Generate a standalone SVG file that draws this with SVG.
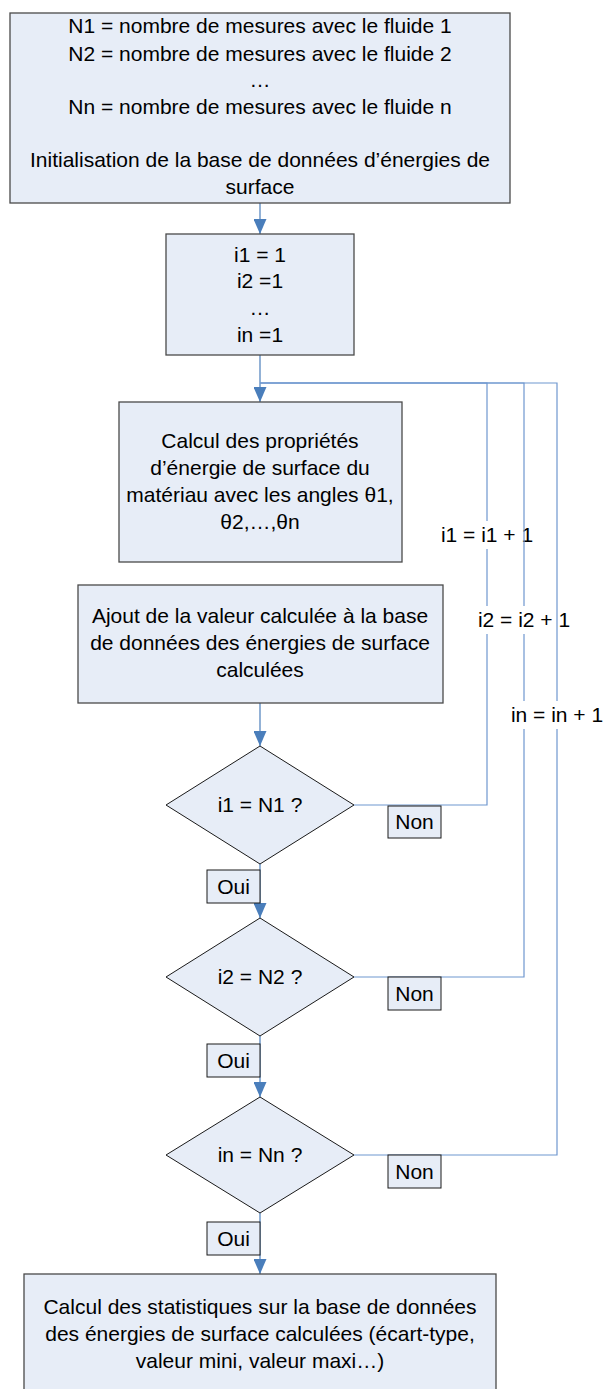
<svg xmlns="http://www.w3.org/2000/svg" width="604" height="1389" viewBox="0 0 604 1389">
<style>
.box{fill:#e7edf7;stroke:#4a4a4a;stroke-width:1.3}
.dia{fill:#e7edf7;stroke:#1a1a1a;stroke-width:1}
.lab{fill:#e7edf7;stroke:#1a1a1a;stroke-width:1}
.t{font-family:"Liberation Sans",Arial,sans-serif;font-size:21px;fill:#000;text-anchor:middle}
.c{fill:none;stroke:#4a7ebb;stroke-width:1.2}
.cl{fill:none;stroke:#6f97cf;stroke-width:1.2}
.bg{fill:#fff}
</style>
<defs>
<marker id="ah" viewBox="0 0 15 13" refX="15" refY="6.5" markerWidth="15" markerHeight="13" markerUnits="userSpaceOnUse" orient="auto">
<path d="M0,0 L15,6.5 L0,13 z" fill="#4a7ebb"/>
</marker>
</defs>
<rect x="0" y="0" width="604" height="1389" fill="#fff"/>

<g id="connectors">
<path class="c" d="M260,203 V234" marker-end="url(#ah)"/>
<path class="c" d="M260,355 V402" marker-end="url(#ah)"/>
<path class="c" d="M260,703 V746" marker-end="url(#ah)"/>
<path class="c" d="M260,864 V918" marker-end="url(#ah)"/>
<path class="c" d="M260,1036 V1097" marker-end="url(#ah)"/>
<path class="c" d="M260,1213 V1274" marker-end="url(#ah)"/>
<g id="loop1">
<path class="cl" d="M354,805 H487 V383 H260"/>
<rect class="bg" x="440" y="521" width="95" height="28"/>
<text class="t" x="487" y="542">i1 = i1 + 1</text>
</g>
<g id="loop2">
<path class="cl" d="M354,977 H524 V383 H260"/>
<rect class="bg" x="477" y="606" width="95" height="28"/>
<text class="t" x="524" y="627">i2 = i2 + 1</text>
</g>
<g id="loop3">
<path class="cl" d="M354,1155 H557 V383 H260"/>
<rect class="bg" x="510" y="701" width="94" height="28"/>
<text class="t" x="557" y="722">in = in + 1</text>
</g>
</g>

<g id="init">
<rect class="box" x="10" y="13" width="500" height="190"/>
<text class="t" x="260" y="33">N1 = nombre de mesures avec le fluide 1</text>
<text class="t" x="260" y="61">N2 = nombre de mesures avec le fluide 2</text>
<text class="t" x="260" y="87">…</text>
<text class="t" x="260" y="114">Nn = nombre de mesures avec le fluide n</text>
<text class="t" x="260" y="167">Initialisation de la base de données d’énergies de</text>
<text class="t" x="260" y="194">surface</text>
</g>

<g id="counters">
<rect class="box" x="166" y="234" width="188" height="121"/>
<text class="t" x="260" y="262">i1 = 1</text>
<text class="t" x="260" y="288">i2 =1</text>
<text class="t" x="260" y="315">…</text>
<text class="t" x="260" y="342">in =1</text>
</g>

<g id="calc">
<rect class="box" x="119" y="402" width="283" height="160"/>
<text class="t" x="260" y="448">Calcul des propriétés</text>
<text class="t" x="260" y="475">d’énergie de surface du</text>
<text class="t" x="260" y="502">matériau avec les angles θ1,</text>
<text class="t" x="260" y="529">θ2,…,θn</text>
</g>

<g id="ajout">
<rect class="box" x="78" y="585" width="365" height="118"/>
<text class="t" x="260" y="623">Ajout de la valeur calculée à la base</text>
<text class="t" x="260" y="650">de données des énergies de surface</text>
<text class="t" x="260" y="677">calculées</text>
</g>

<g id="test1">
<polygon class="dia" points="260,746 354,805 260,864 166,805"/>
<text class="t" x="260" y="812">i1 = N1 ?</text>
</g>
<g id="non1">
<rect class="lab" x="388" y="806" width="53" height="32"/>
<text class="t" x="414.5" y="829">Non</text>
</g>
<g id="oui1">
<rect class="lab" x="207" y="870" width="53" height="33"/>
<text class="t" x="233.5" y="894">Oui</text>
</g>

<g id="test2">
<polygon class="dia" points="260,918 354,977 260,1036 166,977"/>
<text class="t" x="260" y="984">i2 = N2 ?</text>
</g>
<g id="non2">
<rect class="lab" x="388" y="977" width="53" height="33"/>
<text class="t" x="414.5" y="1001">Non</text>
</g>
<g id="oui2">
<rect class="lab" x="207" y="1044" width="53" height="33"/>
<text class="t" x="233.5" y="1068">Oui</text>
</g>

<g id="test3">
<polygon class="dia" points="260,1097 354,1155 260,1213 166,1155"/>
<text class="t" x="260" y="1162">in = Nn ?</text>
</g>
<g id="non3">
<rect class="lab" x="388" y="1155" width="53" height="33"/>
<text class="t" x="414.5" y="1179">Non</text>
</g>
<g id="oui3">
<rect class="lab" x="207" y="1222" width="53" height="33"/>
<text class="t" x="233.5" y="1246">Oui</text>
</g>

<g id="stats">
<rect class="box" x="24" y="1274" width="472" height="130"/>
<text class="t" x="260" y="1314">Calcul des statistiques sur la base de données</text>
<text class="t" x="260" y="1341">des énergies de surface calculées (écart-type,</text>
<text class="t" x="260" y="1368">valeur mini, valeur maxi…)</text>
</g>
</svg>
